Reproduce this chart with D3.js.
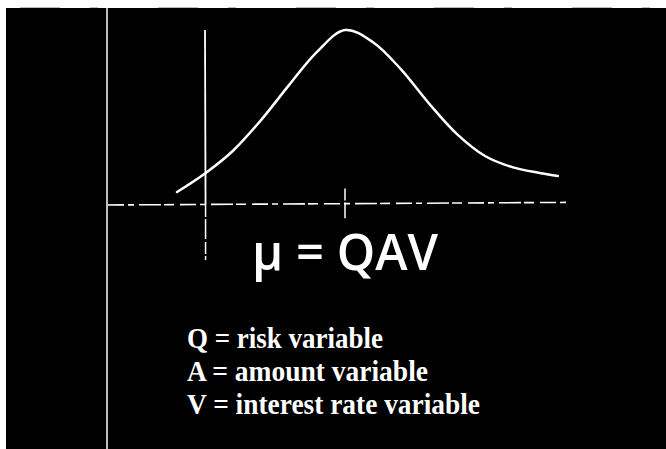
<!DOCTYPE html>
<html>
<head>
<meta charset="utf-8">
<script src="https://cdn.jsdelivr.net/npm/d3@7"></script>
<style>
  html, body { margin: 0; padding: 0; background: #fff; }
  svg { display: block; }
</style>
</head>
<body>
<svg width="666" height="449"></svg>
<script>
// curve (arbitrary units)
var curveX = [-1, 0, 1, 2, 3, 4, 5, 6, 7, 8, 9, 10, 11, 12, 12.6]
var curveY = [0.74, 1.8, 3.1, 4.85, 6.85, 8.75, 10, 9.3, 7.75, 5.8, 4.05, 2.8, 2.15, 1.82, 1.66]
var meanX = 5
var formula = "μ = QAV"
var legendLines = ["Q = risk variable", "A = amount variable", "V = interest rate variable"]
var legendWidths = [196, 241, 293]

var svg = d3.select("svg")

// black slide with white edge at top and left
svg.append("rect")
    .attr("x", 6).attr("y", 8)
    .attr("width", 660).attr("height", 441)
    .attr("fill", "#000")

// faint marks along the top edge
svg.append("line")
    .attr("x1", 20).attr("x2", 660)
    .attr("y1", 7.5).attr("y2", 7.5)
    .style("stroke", "#bbb")
    .style("stroke-width", 1)
    .style("stroke-dasharray", "40,30,8,60")

var x = d3.scaleLinear().domain([0, 13]).range([205, 569])
var y = d3.scaleLinear().domain([0, 10]).range([205, 30])

// slide's vertical margin line
svg.append("line")
    .attr("x1", 107).attr("x2", 107)
    .attr("y1", 8).attr("y2", 449)
    .style("stroke", "#fff")
    .style("stroke-width", 1.5)

// x axis (dashed, runs to left margin line)
svg.append("line")
    .attr("x1", 108).attr("x2", x(13.05))
    .attr("y1", y(0)).attr("y2", y(0.15))
    .style("stroke", "#fff")
    .style("stroke-width", 1.6)
    .style("stroke-dasharray", "16,4,6,5,22,3,10,6")

// y axis
svg.append("line")
    .attr("x1", x(0)).attr("x2", x(0.02))
    .attr("y1", y(10)).attr("y2", y(0))
    .style("stroke", "#fff")
    .style("stroke-width", 1.8)
svg.append("line")
    .attr("x1", x(0.02)).attr("x2", x(0.02))
    .attr("y1", y(0)).attr("y2", 260)
    .style("stroke", "#fff")
    .style("stroke-width", 1.5)
    .style("stroke-dasharray", "12,2,20,3")

// mean tick
svg.append("line")
    .attr("x1", x(meanX)).attr("x2", x(meanX))
    .attr("y1", y(0.95)).attr("y2", y(-0.75))
    .style("stroke", "#fff")
    .style("stroke-width", 1.5)
    .style("stroke-dasharray", "12,2,18")

var pts = curveX.map((d, i) => [d, curveY[i]])
var line = d3.line()
    .x(d => x(d[0]))
    .y(d => y(d[1]))
    .curve(d3.curveCatmullRom.alpha(0.5))

svg.append("path")
    .datum(pts)
    .attr("d", line)
    .attr("fill", "none")
    .style("stroke", "#fff")
    .style("stroke-width", 2.5)
    .style("stroke-linecap", "round")

// formula
svg.append("text")
    .attr("x", 252).attr("y", 270)
    .attr("textLength", 186)
    .attr("lengthAdjust", "spacingAndGlyphs")
    .style("font-family", "'Open Sans', sans-serif")
    .style("font-size", "51px")
    .style("font-weight", 600)
    .style("fill", "#fff")
    .text(formula)

// legend lines
svg.selectAll(".legend")
    .data(legendLines)
    .enter().append("text")
    .attr("class", "legend")
    .attr("x", 187)
    .attr("y", (d, i) => 348 + i * 33)
    .attr("textLength", (d, i) => legendWidths[i])
    .attr("lengthAdjust", "spacingAndGlyphs")
    .style("font-family", "'Liberation Serif', serif")
    .style("font-size", "30px")
    .style("font-weight", "bold")
    .style("fill", "#fff")
    .text(d => d)
</script>
</body>
</html>
